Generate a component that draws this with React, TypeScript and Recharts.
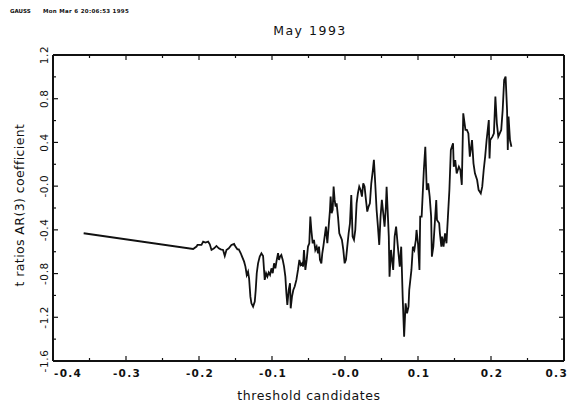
import React from "react";
import { LineChart, Line, XAxis, YAxis } from "recharts";

// threshold candidates (x) and t ratios of the AR(3) coefficient (y)
const thresholds = [
  -0.358, -0.208,
  -0.2034, -0.2021, -0.1966, -0.1943, -0.1911, -0.1875, -0.1852, -0.1829, -0.1793, -0.1761,
  -0.1729, -0.1702, -0.167, -0.1647, -0.1624, -0.1592, -0.1556, -0.1519, -0.1501, -0.1474,
  -0.1455, -0.1428, -0.141, -0.1382, -0.1364, -0.1346, -0.1328, -0.1314, -0.1296, -0.1282,
  -0.1259, -0.1236, -0.1223, -0.1209, -0.1191, -0.1168, -0.1145, -0.1122, -0.1109, -0.11,
  -0.1081, -0.1063, -0.1045, -0.1027, -0.1008, -0.099, -0.0972, -0.0954, -0.0935, -0.0917,
  -0.0904, -0.089, -0.0872, -0.0853, -0.0835, -0.0817, -0.0803, -0.079, -0.0771, -0.0753,
  -0.0744, -0.0726, -0.0708, -0.0689, -0.0666, -0.0644, -0.0625, -0.0607, -0.0589, -0.0575,
  -0.0562, -0.0543, -0.0525, -0.0507, -0.0489, -0.0475, -0.0461, -0.0443, -0.0425, -0.0407,
  -0.0388, -0.037, -0.0356, -0.0343, -0.0324, -0.0311, -0.0297, -0.0279, -0.0261, -0.0242,
  -0.0224, -0.0206, -0.0197, -0.0183, -0.0169, -0.0156, -0.0142, -0.0128, -0.0115, -0.0096,
  -0.0078, -0.006, -0.0042, -0.0023, -0.0005, 0.0013, 0.0031, 0.005, 0.0068, 0.0086,
  0.0104, 0.0123, 0.0141, 0.0159, 0.0177, 0.0195, 0.0214, 0.0232, 0.025, 0.0268,
  0.0287, 0.0305, 0.0323, 0.0341, 0.036, 0.0382, 0.0396, 0.0414, 0.0433, 0.0451,
  0.0469, 0.0487, 0.0505, 0.0524, 0.0542,
  0.056, 0.057, 0.06, 0.061, 0.063, 0.066, 0.068, 0.07, 0.072, 0.075,
  0.077, 0.079, 0.081, 0.083, 0.085, 0.087, 0.088, 0.091, 0.093, 0.095,
  0.097, 0.098, 0.1, 0.102, 0.103, 0.105, 0.108, 0.11, 0.112, 0.114,
  0.116, 0.118, 0.119, 0.121, 0.123, 0.125, 0.126, 0.129, 0.13, 0.132,
  0.133, 0.135, 0.137, 0.139, 0.141, 0.143, 0.145, 0.148, 0.149, 0.151,
  0.153, 0.156, 0.158, 0.16, 0.162, 0.165, 0.167, 0.169, 0.171, 0.174,
  0.176, 0.178, 0.181, 0.183, 0.186, 0.188, 0.19, 0.192, 0.194, 0.197,
  0.198, 0.199, 0.202, 0.204, 0.206, 0.208, 0.21, 0.212, 0.214, 0.216,
  0.218, 0.22, 0.222, 0.223, 0.224, 0.226, 0.228,
];

const tRatios = [
  -0.431, -0.575,
  -0.553, -0.538, -0.538, -0.508, -0.517, -0.508, -0.532, -0.584, -0.569, -0.547,
  -0.569, -0.578, -0.584, -0.639, -0.584, -0.569, -0.538, -0.529, -0.553, -0.578,
  -0.578, -0.614, -0.645, -0.691, -0.736, -0.813, -0.782, -0.843, -1.011, -1.072,
  -1.102, -1.057, -0.95, -0.797, -0.706, -0.645, -0.614, -0.639, -0.767, -0.858,
  -0.797, -0.828, -0.791, -0.813, -0.752, -0.797, -0.706, -0.752, -0.675, -0.614,
  -0.675, -0.645, -0.63, -0.675, -0.736, -0.828, -0.98, -1.087, -0.95, -0.889,
  -1.118, -1.011, -0.95, -0.919, -0.858, -0.767, -0.675, -0.721, -0.706, -0.736,
  -0.584, -0.767, -0.675, -0.553, -0.523, -0.279, -0.401, -0.523, -0.492, -0.584,
  -0.553, -0.614, -0.553, -0.675, -0.706, -0.614, -0.553, -0.462, -0.37, -0.523,
  -0.37, -0.218, -0.096, -0.248, -0.218, -0.004, -0.126, -0.187, -0.157, -0.279,
  -0.431, -0.462, -0.492, -0.584, -0.706, -0.675, -0.553, -0.431, -0.34, -0.081,
  -0.462, -0.492, -0.401, -0.157, -0.065, -0.004, -0.035, -0.096, 0.026, -0.004,
  -0.126, -0.233, -0.187, -0.157, 0.026, 0.148, 0.24, 0.026, -0.218, -0.37,
  -0.538, -0.279, -0.126, -0.248, -0.37,
  -0.188, -0.005, -0.462, -0.828, -0.584, -0.767, -0.462, -0.371, -0.523, -0.737,
  -0.554, -1.011, -1.377, -1.072, -1.164, -1.103, -0.95, -0.767, -0.554, -0.584,
  -0.493, -0.401, -0.523, -0.767, -0.279, -0.279, 0.148, 0.361, -0.035, 0.026,
  -0.096, -0.279, -0.645, -0.554, -0.34, -0.127, -0.31, -0.34, -0.432, -0.554,
  -0.462, -0.554, -0.432, -0.523, -0.279, -0.035, 0.331, 0.392, 0.178, 0.239,
  0.117, 0.178, 0.148, 0.011, 0.666, 0.514, 0.514, 0.483, 0.27, 0.422,
  0.209, 0.117, 0.056, -0.035, -0.066, -0.005, 0.148, 0.27, 0.422, 0.605,
  0.254, 0.422, 0.453, 0.483, 0.819, 0.575, 0.453, 0.483, 0.514, 0.697,
  0.971, 1.002, 0.697, 0.331, 0.636, 0.422, 0.361,
];

const xTicks = [-0.4, -0.35, -0.3, -0.25, -0.2, -0.15, -0.1, -0.05, 0, 0.05, 0.1, 0.15, 0.2, 0.25, 0.3];
const yTicks = [-1.6, -1.4, -1.2, -1.0, -0.8, -0.6, -0.4, -0.2, 0, 0.2, 0.4, 0.6, 0.8, 1.0, 1.2];

const data = thresholds.map((x, i) => ({ x, t: tRatios[i] }));

const fmt = (v: number) => (Math.abs(v) < 1e-9 ? "-0.0" : v.toFixed(1));

const ink = "#111";

function BottomTick(props: any) {
  const { x, y, payload, index } = props;
  const major = index % 2 === 0;
  const first = index === 0;
  const last = index === xTicks.length - 1;
  // GAUSS nudges the end labels inside the frame
  const anchor = first ? "start" : last ? "end" : "middle";
  const tx = first ? x + 1 : last ? x + 4 : x + 1;
  return (
    <g>
      <line x1={x} y1={y} x2={x} y2={y - (major ? 5 : 3)} stroke={ink} strokeWidth={1.2} />
      {major && (
        <text
          x={tx}
          y={y + 16}
          textAnchor={anchor}
          fontFamily="DejaVu Sans"
          fontWeight="bold"
          fontSize={10.5}
          letterSpacing={1.3}
          fill={ink}
        >
          {fmt(payload.value)}
        </text>
      )}
    </g>
  );
}

function TopTick(props: any) {
  const { x, y, index } = props;
  const major = index % 2 === 0;
  return <line x1={x} y1={y} x2={x} y2={y + (major ? 5 : 3)} stroke={ink} strokeWidth={1.2} />;
}

function LeftTick(props: any) {
  const { x, y, payload, index } = props;
  const major = index % 2 === 0;
  return (
    <g>
      <line x1={x} y1={y} x2={x + (major ? 5 : 3)} y2={y} stroke={ink} strokeWidth={1.2} />
      {major && (
        <text
          x={x - 5}
          y={y}
          transform={`rotate(-90 ${x - 5} ${y})`}
          textAnchor="middle"
          fontFamily="DejaVu Sans"
          fontSize={10.5}
          letterSpacing={0.6}
          fill={ink}
        >
          {fmt(payload.value)}
        </text>
      )}
    </g>
  );
}

function RightTick(props: any) {
  const { x, y, index } = props;
  const major = index % 2 === 0;
  return <line x1={x} y1={y} x2={x - (major ? 5 : 3)} y2={y} stroke={ink} strokeWidth={1.2} />;
}

export default function App() {
  const axisLine = { stroke: ink, strokeWidth: 2 };
  return (
    <div style={{ position: "absolute", left: 0, top: 0, width: 574, height: 407, background: "#fff" }}>
      <LineChart width={574} height={407} data={data} margin={{ top: 54, right: 9, bottom: 45, left: 52 }}>
        <XAxis
          xAxisId="bottom"
          dataKey="x"
          type="number"
          domain={[-0.4, 0.3]}
          ticks={xTicks}
          interval={0}
          height={1}
          tickSize={0}
          tickMargin={0}
          tickLine={false}
          axisLine={axisLine}
          tick={<BottomTick />}
          allowDataOverflow
        />
        <XAxis
          xAxisId="top"
          orientation="top"
          dataKey="x"
          type="number"
          domain={[-0.4, 0.3]}
          ticks={xTicks}
          interval={0}
          height={1}
          tickSize={0}
          tickMargin={0}
          tickLine={false}
          axisLine={axisLine}
          tick={<TopTick />}
          allowDataOverflow
        />
        <YAxis
          yAxisId="left"
          type="number"
          domain={[-1.6, 1.2]}
          ticks={yTicks}
          interval={0}
          width={1}
          tickSize={0}
          tickMargin={0}
          tickLine={false}
          axisLine={axisLine}
          tick={<LeftTick />}
          allowDataOverflow
        />
        <YAxis
          yAxisId="right"
          orientation="right"
          type="number"
          domain={[-1.6, 1.2]}
          ticks={yTicks}
          interval={0}
          width={1}
          tickSize={0}
          tickMargin={0}
          tickLine={false}
          axisLine={axisLine}
          tick={<RightTick />}
          allowDataOverflow
        />
        <Line
          xAxisId="bottom"
          yAxisId="left"
          dataKey="t"
          type="linear"
          stroke={ink}
          strokeWidth={1.8}
          dot={false}
          isAnimationActive={false}
        />
      </LineChart>
      <svg width={574} height={407} style={{ position: "absolute", left: 0, top: 0, pointerEvents: "none" }}>
        <text x={10} y={13} fontFamily="DejaVu Sans" fontWeight="bold" fontSize={5.5} fill={ink}>
          GAUSS
        </text>
        <text x={43} y={13} fontFamily="DejaVu Sans" fontWeight="bold" fontSize={5.5} fill={ink} letterSpacing={0.3}>
          Mon Mar  6 20:06:53 1995
        </text>
        <text x={310} y={35} textAnchor="middle" fontFamily="DejaVu Sans" fontSize={12.5} letterSpacing={1.5} fill={ink}>
          May 1993
        </text>
        <text
          x={24}
          y={205}
          transform="rotate(-90 24 205)"
          textAnchor="middle"
          fontFamily="DejaVu Sans"
          fontSize={12.5}
          letterSpacing={0.4}
          fill={ink}
        >
          t ratios AR(3) coefficient
        </text>
        <text x={309} y={400} textAnchor="middle" fontFamily="DejaVu Sans" fontSize={12.5} letterSpacing={0.6} fill={ink}>
          threshold candidates
        </text>
      </svg>
    </div>
  );
}
